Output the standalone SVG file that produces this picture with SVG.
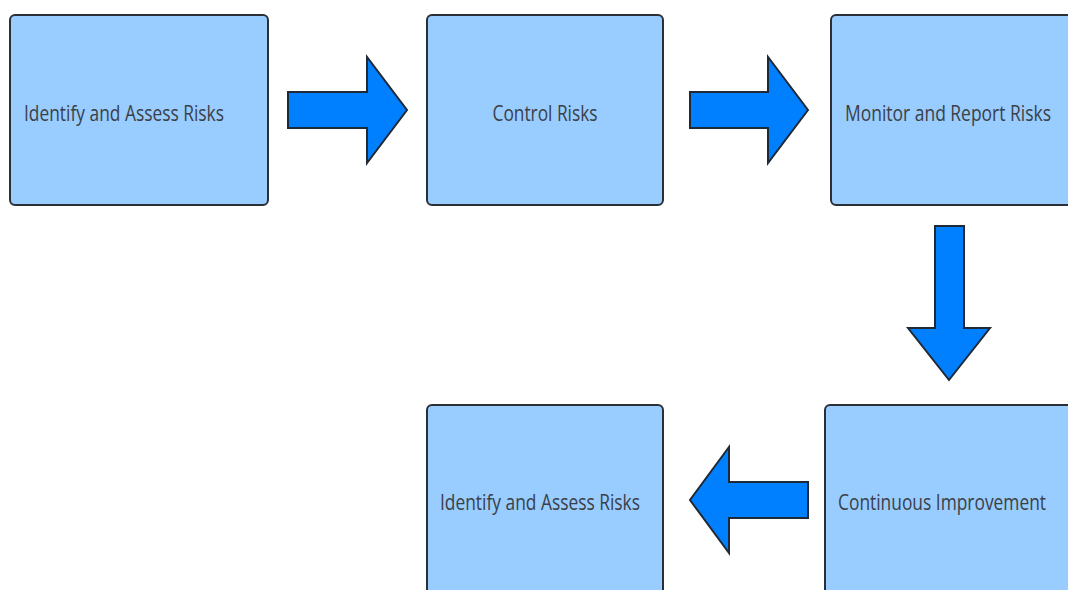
<svg xmlns="http://www.w3.org/2000/svg" width="1068" height="590" viewBox="0 0 1068 590">
  <style>
    .box { fill: #99ccff; stroke: #2b2f36; stroke-width: 2; }
    .arrow { fill: #0080ff; stroke: #1f2a36; stroke-width: 2; stroke-linejoin: miter; }
    .label { font-family: "Open Sans", "Noto Sans", sans-serif; font-size: 22px; fill: #3a4048; text-anchor: middle; }
  </style>
  <rect width="1068" height="590" fill="#ffffff"/>

  <g id="node-identify">
    <rect class="box" x="10" y="15" width="258" height="190" rx="5"/>
    <text class="label" x="124" y="120.5" textLength="200" lengthAdjust="spacingAndGlyphs">Identify and Assess Risks</text>
  </g>

  <g id="node-control">
    <rect class="box" x="427" y="15" width="236" height="190" rx="5"/>
    <text class="label" x="545" y="120.5" textLength="105" lengthAdjust="spacingAndGlyphs">Control Risks</text>
  </g>

  <g id="node-monitor">
    <rect class="box" x="831" y="15" width="250" height="190" rx="5"/>
    <text class="label" x="948" y="120.5" textLength="206" lengthAdjust="spacingAndGlyphs">Monitor and Report Risks</text>
  </g>

  <g id="node-improve">
    <rect class="box" x="825" y="405" width="260" height="200" rx="5"/>
    <text class="label" x="942" y="510" textLength="208" lengthAdjust="spacingAndGlyphs">Continuous Improvement</text>
  </g>

  <g id="node-identify-2">
    <rect class="box" x="427" y="405" width="236" height="200" rx="5"/>
    <text class="label" x="540" y="510" textLength="200" lengthAdjust="spacingAndGlyphs">Identify and Assess Risks</text>
  </g>

  <g id="connectors">
    <polygon class="arrow" points="288,92 367,92 367,57 407,110 367,163 367,128 288,128"/>
    <polygon class="arrow" points="690,92 768,92 768,57 808,110 768,163 768,128 690,128"/>
    <polygon class="arrow" points="935,226 964,226 964,328 990,328 949,380 908,328 935,328"/>
    <polygon class="arrow" points="808,482 729,482 729,447 690,500 729,553 729,518 808,518"/>
  </g>
</svg>
